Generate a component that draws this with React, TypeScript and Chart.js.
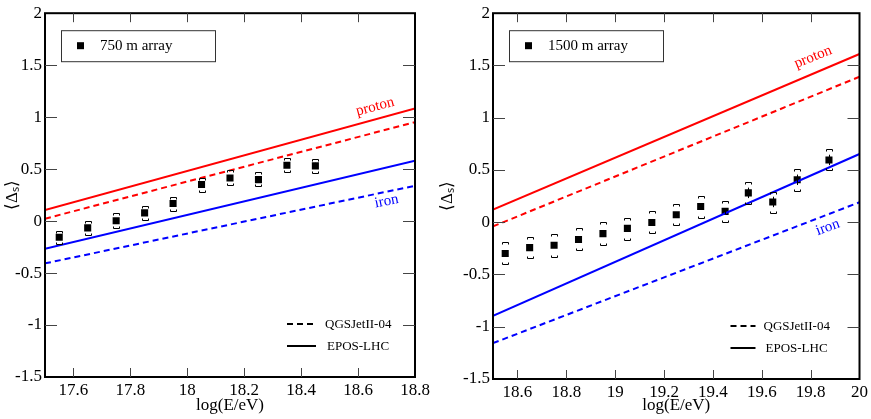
import React, { useEffect, useRef } from "react";
import { Chart, registerables } from "chart.js";

Chart.register(...registerables);

// 750 m array (left panel)
const leftBins = [17.55, 17.65, 17.75, 17.85, 17.95, 18.05, 18.15, 18.25, 18.35, 18.45];
const leftMean = [-0.156, -0.065, 0.004, 0.079, 0.17, 0.352, 0.415, 0.399, 0.537, 0.531];
const leftStat = [0.015, 0.012, 0.012, 0.012, 0.012, 0.015, 0.015, 0.02, 0.025, 0.03];
const leftSysUp = [-0.094, 0.004, 0.073, 0.148, 0.236, 0.418, 0.487, 0.468, 0.606, 0.597];
const leftSysLow = [-0.22, -0.131, -0.062, 0.01, 0.101, 0.283, 0.346, 0.333, 0.471, 0.462];
const leftLineE = [17.5, 18.8];
const leftProtonEpos = [0.107, 1.084];
const leftProtonQgs = [0.023, 0.952];
const leftIronEpos = [-0.266, 0.581];
const leftIronQgs = [-0.407, 0.34];
const leftXTicks = [17.6, 17.8, 18, 18.2, 18.4, 18.6, 18.8];

// 1500 m array (right panel)
const rightBins = [18.55, 18.65, 18.75, 18.85, 18.95, 19.05, 19.15, 19.25, 19.35, 19.45, 19.545, 19.645, 19.745, 19.875];
const rightMean = [-0.299, -0.243, -0.221, -0.165, -0.109, -0.059, -0.002, 0.072, 0.15, 0.104, 0.281, 0.194, 0.406, 0.596];
const rightStat = [0.01, 0.01, 0.01, 0.01, 0.01, 0.012, 0.012, 0.015, 0.02, 0.025, 0.05, 0.05, 0.05, 0.05];
const rightSysUp = [-0.19, -0.137, -0.112, -0.059, -0.002, 0.044, 0.104, 0.175, 0.253, 0.206, 0.387, 0.294, 0.509, 0.7];
const rightSysLow = [-0.399, -0.346, -0.33, -0.268, -0.215, -0.168, -0.102, -0.031, 0.044, 0.0, 0.178, 0.091, 0.3, 0.497];
const rightLineE = [18.5, 20];
const rightProtonEpos = [0.122, 1.61];
const rightProtonQgs = [-0.04, 1.392];
const rightIronEpos = [-0.895, 0.653];
const rightIronQgs = [-1.157, 0.191];
const rightXTicks = [18.6, 18.8, 19, 19.2, 19.4, 19.6, 19.8, 20];

const yTicks = [-1.5, -1, -0.5, 0, 0.5, 1, 1.5, 2];

const SERIF = "Liberation Serif";
const RED = "#ff0000";
const BLUE = "#0000ff";

type Panel = {
  left: number;
  width: number;
  xMin: number;
  xMax: number;
  xTicks: number[];
  bins: number[];
  mean: number[];
  stat: number[];
  sysUp: number[];
  sysLow: number[];
  lineE: number[];
  protonEpos: number[];
  protonQgs: number[];
  ironEpos: number[];
  ironQgs: number[];
  arrayLabel: string;
  yAxisWidth: number;
  xAxisHeight: number;
  padTop: number;
  padRight: number;
  proton: [number, number, number];
  iron: [number, number, number];
  modelLine: [number, number];
  modelText: number;
};

const pts = (xs: number[], ys: number[]) => xs.map((x, i) => ({ x, y: ys[i] }));

const decor = {
  id: "decor",
  afterDatasetsDraw(chart: any, _a: any, o: any) {
    const { ctx, chartArea: a } = chart;
    const xs = chart.scales.x;
    const ys = chart.scales.y;
    ctx.save();
    ctx.strokeStyle = "#000";
    ctx.lineWidth = 1;
    o.bins.forEach((e: number, i: number) => {
      const px = Math.round(xs.getPixelForValue(e)) + 0.5;
      const up = Math.round(ys.getPixelForValue(o.sysUp[i])) + 0.5;
      const lo = Math.round(ys.getPixelForValue(o.sysLow[i])) + 0.5;
      ctx.beginPath();
      ctx.moveTo(px - 3, up + 2);
      ctx.lineTo(px - 3, up);
      ctx.lineTo(px + 3, up);
      ctx.lineTo(px + 3, up + 2);
      ctx.moveTo(px - 3, lo - 2);
      ctx.lineTo(px - 3, lo);
      ctx.lineTo(px + 3, lo);
      ctx.lineTo(px + 3, lo - 2);
      ctx.moveTo(px, ys.getPixelForValue(o.mean[i] + o.stat[i]));
      ctx.lineTo(px, ys.getPixelForValue(o.mean[i] - o.stat[i]));
      ctx.stroke();
    });

    // frame and inward ticks
    ctx.strokeStyle = "#000";
    ctx.lineWidth = 2;
    ctx.strokeRect(a.left, a.top, a.right - a.left, a.bottom - a.top);
    ctx.lineWidth = 1;
    ctx.strokeStyle = "#444";
    ctx.beginPath();
    o.xTicks.forEach((v: number) => {
      const px = Math.round(xs.getPixelForValue(v)) + 0.5;
      if (px > a.right - 2) return;
      ctx.moveTo(px, a.bottom);
      ctx.lineTo(px, a.bottom - 9);
      ctx.moveTo(px, a.top);
      ctx.lineTo(px, a.top + 9);
    });
    yTicks.forEach((v) => {
      const py = Math.round(ys.getPixelForValue(v)) + 0.5;
      if (py < a.top + 2 || py > a.bottom - 2) return;
      ctx.moveTo(a.left, py);
      ctx.lineTo(a.left + 12, py);
      ctx.moveTo(a.right, py);
      ctx.lineTo(a.right - 12, py);
    });
    ctx.stroke();

    // array legend box
    ctx.strokeStyle = "#333";
    ctx.lineWidth = 1;
    const bx = a.left + 16;
    const by = a.top + 17;
    ctx.strokeRect(bx + 0.5, by + 0.5, 154, 31);
    ctx.fillStyle = "#000";
    ctx.fillRect(bx + 16, by + 12, 7, 7);
    ctx.font = `15px "${SERIF}"`;
    ctx.textBaseline = "middle";
    ctx.textAlign = "left";
    ctx.fillText(o.arrayLabel, bx + 39, by + 16);

    // model legend
    ctx.lineWidth = 2;
    ctx.strokeStyle = "#000";
    ctx.font = `13px "${SERIF}"`;
    const [l0, len] = o.modelLine;
    ctx.setLineDash([6, 4]);
    ctx.beginPath();
    ctx.moveTo(a.right - l0, a.bottom - 53);
    ctx.lineTo(a.right - l0 + len, a.bottom - 53);
    ctx.stroke();
    ctx.setLineDash([]);
    ctx.beginPath();
    ctx.moveTo(a.right - l0, a.bottom - 31);
    ctx.lineTo(a.right - l0 + len, a.bottom - 31);
    ctx.stroke();
    ctx.fillText("QGSJetII-04", a.right - o.modelText, a.bottom - 52);
    ctx.fillText("EPOS-LHC", a.right - o.modelText + 2, a.bottom - 30);

    // composition labels
    const label = (t: string, c: string, p: [number, number, number]) => {
      ctx.save();
      ctx.translate(xs.getPixelForValue(p[0]), ys.getPixelForValue(p[1]));
      ctx.rotate((p[2] * Math.PI) / 180);
      ctx.fillStyle = c;
      ctx.font = `15px "${SERIF}"`;
      ctx.textAlign = "center";
      ctx.fillText(t, 0, 0);
      ctx.restore();
    };
    label("proton", RED, o.proton);
    label("iron", BLUE, o.iron);
    ctx.restore();
  },
};

const PanelChart: React.FC<{ p: Panel }> = ({ p }) => {
  const ref = useRef<HTMLCanvasElement | null>(null);
  useEffect(() => {
    if (!ref.current) return;
    const line = (ys: number[], color: string, dash: number[]) => ({
      data: pts(p.lineE, ys),
      showLine: true,
      borderColor: color,
      borderWidth: 2,
      borderDash: dash,
      pointRadius: 0,
      fill: false,
    });
    const chart = new Chart(ref.current, {
      type: "scatter",
      data: {
        datasets: [
          line(p.protonEpos, RED, []),
          line(p.protonQgs, RED, [6, 4]),
          line(p.ironEpos, BLUE, []),
          line(p.ironQgs, BLUE, [6, 4]),
          {
            data: pts(p.bins, p.mean),
            pointStyle: "rect",
            pointRadius: 5,
            backgroundColor: "#000",
            borderWidth: 0,
            showLine: false,
          },
        ] as any,
      },
      options: {
        animation: false,
        responsive: true,
        maintainAspectRatio: false,
        layout: { padding: { top: p.padTop, right: p.padRight, left: 0, bottom: 0 } },
        plugins: {
          legend: { display: false },
          tooltip: { enabled: false },
          decor: p,
        } as any,
        scales: {
          x: {
            type: "linear",
            min: p.xMin,
            max: p.xMax,
            grid: { display: false, drawTicks: false },
            border: { display: false },
            afterBuildTicks: (s: any) => {
              s.ticks = p.xTicks.map((value) => ({ value }));
            },
            afterFit: (s: any) => {
              s.height = p.xAxisHeight;
            },
            ticks: {
              padding: 3,
              color: "#000",
              font: { family: SERIF, size: 17 },
              maxRotation: 0,
              autoSkip: false,
              callback: (v: any) => String(Number(Number(v).toFixed(1))),
            },
            title: {
              display: true,
              text: "log(E/eV)",
              color: "#000",
              font: { family: SERIF, size: 17 },
              padding: { top: 0, bottom: 3 },
            },
          },
          y: {
            type: "linear",
            min: -1.5,
            max: 2,
            grid: { display: false, drawTicks: false },
            border: { display: false },
            afterBuildTicks: (s: any) => {
              s.ticks = yTicks.map((value) => ({ value }));
            },
            afterFit: (s: any) => {
              s.width = p.yAxisWidth;
            },
            ticks: {
              padding: 3,
              color: "#000",
              font: { family: SERIF, size: 17 },
              callback: (v: any) => String(v),
            },
            title: {
              display: true,
              text: "⟨Δₛ⟩",
              color: "#000",
              font: { family: SERIF, size: 17 },
              padding: { top: 2, bottom: 0 },
            },
          },
        },
      } as any,
      plugins: [decor],
    });
    return () => chart.destroy();
  }, [p]);

  return (
    <div style={{ position: "absolute", left: p.left, top: 0, width: p.width, height: 419 }}>
      <canvas ref={ref} />
    </div>
  );
};

const leftPanel: Panel = {
  left: 0,
  width: 435,
  xMin: 17.5,
  xMax: 18.8,
  xTicks: leftXTicks,
  bins: leftBins,
  mean: leftMean,
  stat: leftStat,
  sysUp: leftSysUp,
  sysLow: leftSysLow,
  lineE: leftLineE,
  protonEpos: leftProtonEpos,
  protonQgs: leftProtonQgs,
  ironEpos: leftIronEpos,
  ironQgs: leftIronQgs,
  arrayLabel: "750 m array",
  yAxisWidth: 45,
  xAxisHeight: 42,
  padTop: 5,
  padRight: 20,
  proton: [18.66, 1.1, -15],
  iron: [18.7, 0.19, -11],
  modelLine: [128, 29],
  modelText: 90,
};

const rightPanel: Panel = {
  left: 435,
  width: 436,
  xMin: 18.5,
  xMax: 20,
  xTicks: rightXTicks,
  bins: rightBins,
  mean: rightMean,
  stat: rightStat,
  sysUp: rightSysUp,
  sysLow: rightSysLow,
  lineE: rightLineE,
  protonEpos: rightProtonEpos,
  protonQgs: rightProtonQgs,
  ironEpos: rightIronEpos,
  ironQgs: rightIronQgs,
  arrayLabel: "1500 m array",
  yAxisWidth: 58,
  xAxisHeight: 40,
  padTop: 6,
  padRight: 8,
  proton: [19.81, 1.58, -22],
  iron: [19.87, -0.05, -20],
  modelLine: [129, 25],
  modelText: 96,
};

export default function App() {
  return (
    <div style={{ position: "absolute", left: 0, top: 0, width: 871, height: 419, background: "#fff" }}>
      <PanelChart p={leftPanel} />
      <PanelChart p={rightPanel} />
    </div>
  );
}
